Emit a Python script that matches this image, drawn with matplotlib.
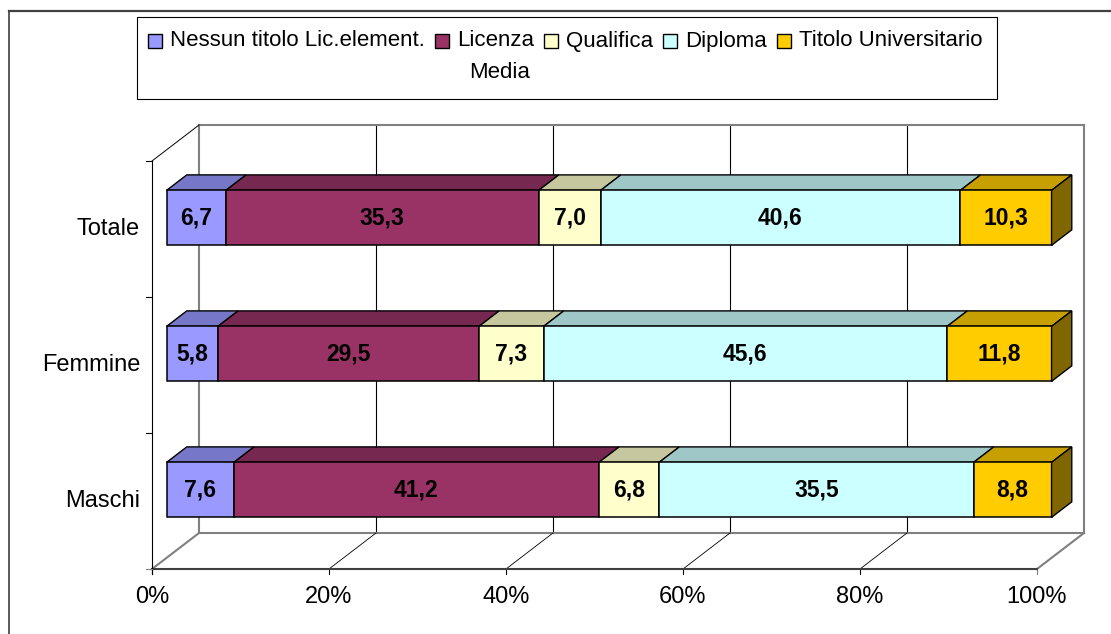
import matplotlib
matplotlib.use("Agg")
import matplotlib.pyplot as plt
from matplotlib.patches import Polygon, Rectangle
from matplotlib.lines import Line2D

plt.rcParams['font.family'] = ['Liberation Sans', 'DejaVu Sans']

# dati (percentuali per titolo di studio)
categories = ['Maschi', 'Femmine', 'Totale']
series_names = ['Nessun titolo Lic.element.', 'Licenza Media', 'Qualifica',
                'Diploma', 'Titolo Universitario']
nessun_titolo = [7.6, 5.8, 6.7]
licenza_media = [41.2, 29.5, 35.3]
qualifica = [6.8, 7.3, 7.0]
diploma = [35.5, 45.6, 40.6]
titolo_univ = [8.8, 11.8, 10.3]
x_ticks = [0, 20, 40, 60, 80, 100]

front_colors = ['#9999FF', '#993366', '#FFFFCC', '#CCFFFF', '#FFCC00']


def darker(hexcol, f):
    r, g, b = matplotlib.colors.to_rgb(hexcol)
    return (r * f, g * f, b * f)


W, H = 1111, 634
fig = plt.figure(figsize=(W / 100, H / 100), dpi=100)

# front plane of the 3d box: 0..100 % by 3 categories
ax = fig.add_axes([152 / W, (H - 569) / H, 885 / W, 408 / H])
ax.set_xlim(0, 100)
ax.set_ylim(0, 3)
ax.axis('off')

DX = 47 / 885 * 100   # depth offset along x
DY = 36 / 408 * 3     # depth offset along y
PX = 100 / 885        # one pixel in x units
PY = 3 / 408          # one pixel in y units
D0, D1 = 0.31, 0.74   # bar depth range
BAR_H = 0.404

grey = '#808080'
FS = 17

# back wall
for t in x_ticks:
    edge = t in (0, 100)
    ax.add_line(Line2D([t + DX, t + DX], [DY, 3 + DY], color=grey if edge else 'black',
                       lw=1.5 if edge else 0.8, zorder=1, clip_on=False))
ax.add_line(Line2D([DX, 100 + DX], [3 + DY, 3 + DY], color=grey, lw=1.5, zorder=1, clip_on=False))
ax.add_line(Line2D([DX, 100 + DX], [DY, DY], color=grey, lw=1.5, zorder=1, clip_on=False))

# floor
for t in x_ticks:
    edge = t in (0, 100)
    ax.add_line(Line2D([t, t + DX], [0, DY], color=grey if edge else 'black',
                       lw=1.5 if edge else 0.6, zorder=1, clip_on=False))
    ax.add_line(Line2D([t, t], [0, -5 * PY], color=grey if t == 100 else 'black',
                       lw=0.8, zorder=2, clip_on=False))
    ax.text(t, -28 * PY, f'{t}%', ha='center', va='center', fontsize=FS)
ax.add_line(Line2D([0, 100], [0, 0], color='#404040', lw=1.5, zorder=2, clip_on=False))

# left wall edges and category ticks
ax.add_line(Line2D([0, 0], [-5 * PY, 3], color='black', lw=0.8, zorder=2, clip_on=False))
ax.add_line(Line2D([0, DX], [3, 3 + DY], color='black', lw=0.7, zorder=2, clip_on=False))
for k in range(4):
    ax.add_line(Line2D([-6 * PX, 0], [k, k], color=grey if k == 0 else 'black',
                       lw=0.8, zorder=2, clip_on=False))
for i, cat in enumerate(categories):
    ax.text(-12 * PX, i + 0.5, cat, ha='right', va='center', fontsize=FS)

# stacked 3d bars
data = [nessun_titolo, licenza_media, qualifica, diploma, titolo_univ]
for i in range(len(categories)):
    row = [s[i] for s in data]
    total = sum(row)
    left = 0.0
    yb = i + 0.5 - BAR_H / 2
    yt = i + 0.5 + BAR_H / 2
    for j, v in enumerate(row):
        w = v / total * 100
        xl, xr = left, left + w
        z = 5 + i
        front = [(xl + D0 * DX, yb + D0 * DY), (xr + D0 * DX, yb + D0 * DY),
                 (xr + D0 * DX, yt + D0 * DY), (xl + D0 * DX, yt + D0 * DY)]
        top = [(xl + D0 * DX, yt + D0 * DY), (xl + D1 * DX, yt + D1 * DY),
               (xr + D1 * DX, yt + D1 * DY), (xr + D0 * DX, yt + D0 * DY)]
        ax.add_patch(Polygon(top, closed=True, fc=darker(front_colors[j], 0.78),
                             ec='black', lw=1.0, zorder=z, clip_on=False))
        ax.add_patch(Polygon(front, closed=True, fc=front_colors[j],
                             ec='black', lw=1.1, zorder=z, clip_on=False))
        if j == len(row) - 1:
            side = [(xr + D0 * DX, yb + D0 * DY), (xr + D1 * DX, yb + D1 * DY),
                    (xr + D1 * DX, yt + D1 * DY), (xr + D0 * DX, yt + D0 * DY)]
            ax.add_patch(Polygon(side, closed=True, fc=darker(front_colors[j], 0.5),
                                 ec='black', lw=1.0, zorder=z, clip_on=False))
        ax.text((xl + xr) / 2 + D0 * DX, i + 0.5 + D0 * DY, f'{v:.1f}'.replace('.', ','),
                ha='center', va='center', fontsize=16.5, fontweight='bold', zorder=z + 1)
        left = xr

# legend, laid out left to right
fig.add_artist(Rectangle((137 / W, 1 - 99 / H), (997 - 137) / W, (99 - 17) / H,
                         transform=fig.transFigure, fill=False, ec='black', lw=0.8))
renderer = fig.canvas.get_renderer()
mx = 148
for j, name in enumerate(series_names):
    fig.add_artist(Rectangle((mx / W, 1 - 48 / H), 14 / W, 14 / H, transform=fig.transFigure,
                             fc=front_colors[j], ec='black', lw=1.0))
    first = name.split(' Media')[0] if j == 1 else name
    t = fig.text((mx + 22) / W, 1 - 41 / H, first, ha='left', va='center', fontsize=16)
    tw = t.get_window_extent(renderer).width
    if j == 1:
        fig.text((mx + 22 + tw / 2 + 4) / W, 1 - 73 / H, 'Media', ha='center', va='center',
                 fontsize=16)
    mx = mx + 22 + tw + 10

# outer frame
fig.add_artist(Line2D([9 / W, 1], [1 - 11 / H, 1 - 11 / H], transform=fig.transFigure,
                      color='#404040', lw=1.6))
fig.add_artist(Line2D([9 / W, 9 / W], [0, 1 - 11 / H], transform=fig.transFigure,
                      color='#404040', lw=1.2))

fig.savefig('out.png', dpi=100)
